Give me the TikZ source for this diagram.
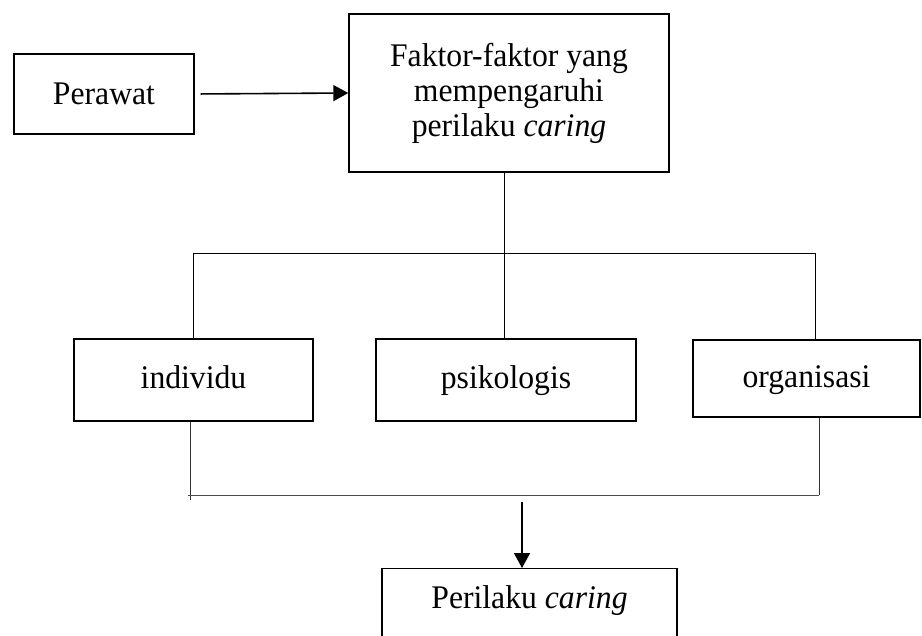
\documentclass[tikz,border=0pt]{standalone}
\usepackage{fontspec}
\setmainfont{Liberation Serif}[FakeStretch=0.96]
\usetikzlibrary{arrows.meta}
\begin{document}
\begin{tikzpicture}[x=1pt,y=-1pt,
  box/.style={draw, line width=1.4pt, inner sep=0pt, align=center,
    font=\fontsize{33}{35}\selectfont},
  onel/.style={text height=23pt, text depth=5pt},
  thin/.style={line width=0.9pt},
  arr/.style={line width=1.6pt, -{Triangle[length=15pt,width=16pt]}}]
\useasboundingbox (0,0) rectangle (922,636);
\clip (0,0) rectangle (922,636);
\node[box, text height=23pt, text depth=1pt, minimum width=180pt, minimum height=80pt] (perawat) at (104,94) {Perawat};
\node[box, minimum width=320pt, minimum height=158pt] (faktor) at (509,93)
  {Faktor-faktor yang\\mempengaruhi\\perilaku \textit{caring}};
\node[box, onel, minimum width=239pt, minimum height=82pt] (individu) at (193.5,380) {individu};
\node[box, onel, minimum width=260pt, minimum height=82pt] (psikologis) at (506,380) {psikologis};
\node[box, onel, minimum width=227pt, minimum height=77pt] (organisasi) at (806.5,378.5) {organisasi};
\node[box, anchor=north, minimum width=295pt, inner ysep=17pt, text height=23pt, text depth=60pt]
  (perilaku) at (529.5,568) {Perilaku \textit{caring}};
\coordinate (jt) at (504,253);
\coordinate (tl) at (193,253);
\coordinate (tr) at (815,253);
\coordinate (bl) at (190,500);
\coordinate (blh) at (188,495);
\coordinate (br) at (819,495);
\coordinate (as) at (522,502);
\draw[arr, shorten <=6pt] (perawat.east) -- (faktor.west);
\draw[thin] (faktor.south -| jt) -- (psikologis.north -| jt);
\draw[thin] (tl) -- (tr);
\draw[thin] (tl) -- (individu.north -| tl);
\draw[thin] (tr) -- (organisasi.north -| tr);
\draw[thin, black!80] (individu.south -| bl) -- (bl);
\draw[thin, black!70] (blh) -- (br);
\draw[thin, black!80] (organisasi.south -| br) -- (br);
\draw[arr] (as) -- (as |- perilaku.north);
\end{tikzpicture}
\end{document}
